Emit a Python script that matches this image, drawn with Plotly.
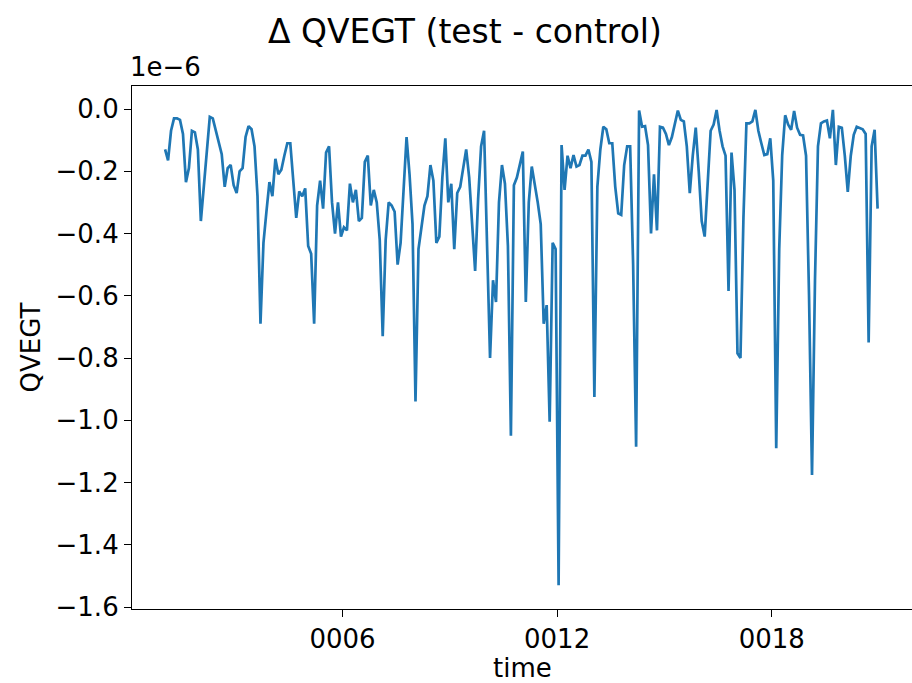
import plotly.graph_objects as go

# Monthly Δ QVEGT (test - control), units of 1e-6, years 0001..0020 (Jan..Dec)
start_year = 1
delta_qvegt = [
    # 0001
    -0.13, -0.165, -0.07, -0.03, -0.03, -0.035, -0.08, -0.235, -0.19, -0.07, -0.075, -0.13,
    # 0002
    -0.36, -0.24, -0.14, -0.025, -0.03, -0.07, -0.10, -0.145, -0.25, -0.19, -0.18, -0.245,
    # 0003
    -0.27, -0.20, -0.19, -0.09, -0.055, -0.065, -0.12, -0.28, -0.69, -0.43, -0.33, -0.235,
    # 0004
    -0.28, -0.16, -0.21, -0.195, -0.15, -0.11, -0.11, -0.24, -0.35, -0.265, -0.28, -0.255,
    # 0005
    -0.44, -0.465, -0.69, -0.31, -0.23, -0.32, -0.14, -0.12, -0.30, -0.40, -0.30, -0.41,
    # 0006
    -0.38, -0.39, -0.24, -0.30, -0.26, -0.36, -0.35, -0.17, -0.15, -0.31, -0.26, -0.30,
    # 0007
    -0.42, -0.73, -0.42, -0.30, -0.31, -0.33, -0.50, -0.43, -0.25, -0.09, -0.21, -0.37,
    # 0008
    -0.94, -0.45, -0.38, -0.31, -0.28, -0.18, -0.23, -0.43, -0.41, -0.22, -0.094, -0.30,
    # 0009
    -0.24, -0.45, -0.27, -0.25, -0.19, -0.13, -0.22, -0.39, -0.52, -0.29, -0.12, -0.07,
    # 0010
    -0.40, -0.80, -0.55, -0.62, -0.30, -0.18, -0.24, -0.44, -1.05, -0.245, -0.22, -0.18,
    # 0011
    -0.137, -0.62, -0.30, -0.185, -0.24, -0.30, -0.37, -0.69, -0.63, -1.005, -0.43, -0.45,
    # 0012
    -1.53, -0.116, -0.26, -0.15, -0.19, -0.148, -0.185, -0.18, -0.15, -0.15, -0.13, -0.17,
    # 0013
    -0.925, -0.25, -0.13, -0.057, -0.065, -0.11, -0.11, -0.25, -0.335, -0.34, -0.18, -0.12,
    # 0014
    -0.12, -0.50, -1.085, -0.005, -0.057, -0.055, -0.116, -0.40, -0.21, -0.39, -0.057, -0.06,
    # 0015
    -0.08, -0.116, -0.09, -0.05, -0.005, -0.035, -0.04, -0.12, -0.27, -0.15, -0.06, -0.20,
    # 0016
    -0.36, -0.41, -0.24, -0.07, -0.05, -0.003, -0.07, -0.12, -0.15, -0.585, -0.14, -0.26,
    # 0017
    -0.785, -0.80, -0.35, -0.046, -0.046, -0.04, -0.003, -0.07, -0.11, -0.148, -0.145, -0.094,
    # 0018
    -0.23, -1.09, -0.45, -0.148, -0.02, -0.05, -0.067, -0.006, -0.06, -0.083, -0.085, -0.15,
    # 0019
    -0.60, -1.176, -0.55, -0.12, -0.046, -0.04, -0.037, -0.094, -0.003, -0.18, -0.057, -0.06,
    # 0020
    -0.15, -0.266, -0.15, -0.083, -0.057, -0.06, -0.065, -0.08, -0.75, -0.12, -0.067, -0.32,
]
tick_years = [6, 12, 18]
tick_labels = ["0006", "0012", "0018"]
y_ticks = [0.0, -0.2, -0.4, -0.6, -0.8, -1.0, -1.2, -1.4, -1.6]

# decimal-year time coordinate (mid-month)
time = [start_year + (i + 0.5) / 12 for i in range(len(delta_qvegt))]

FONT = "DejaVu Sans"
W, H = 912, 683
L, R, T, B = 132, 0, 86, 74
PW, PH = W - L - R, H - T - B

fig = go.Figure()
fig.add_trace(go.Scatter(x=time, y=delta_qvegt, mode="lines",
                         line=dict(color="#1f77b4", width=2.7), showlegend=False))

fig.update_layout(
    width=W, height=H,
    margin=dict(l=L, r=R, t=T, b=B, pad=0),
    paper_bgcolor="white", plot_bgcolor="white",
    font=dict(family=FONT, size=26, color="black"),
    xaxis=dict(range=[0.117, 21.92], tickvals=tick_years, ticktext=tick_labels,
               showgrid=False, zeroline=False, showline=True, linecolor="black",
               linewidth=1.2, mirror=True, ticks="outside", ticklen=7, tickwidth=1.2,
               tickcolor="black", tickfont=dict(size=26)),
    yaxis=dict(range=[-1.6064, 0.0739], tickvals=y_ticks, tickformat=".1f",
               showgrid=False, zeroline=False, showline=True, linecolor="black",
               linewidth=1.2, mirror=False, ticks="outside", ticklen=7, tickwidth=1.2,
               tickcolor="black", tickfont=dict(size=26)),
    annotations=[
        dict(text="Δ QVEGT (test - control)", xref="paper", yref="paper",
             x=(465 - L) / PW, y=1 + (T - 31) / PH,
             xanchor="center", yanchor="middle", showarrow=False,
             font=dict(size=33)),
        dict(text="1e\u22126", xref="paper", yref="paper", x=0, y=1,
             xanchor="left", yanchor="bottom", yshift=2, xshift=-4, showarrow=False,
             font=dict(size=26)),
        dict(text="QVEGT", xref="paper", yref="paper",
             x=(30 - L) / PW, y=0.5, textangle=-90,
             xanchor="center", yanchor="middle", showarrow=False, font=dict(size=26)),
        dict(text="time", xref="paper", yref="paper", x=0.5,
             y=-(668 - (H - B)) / PH,
             xanchor="center", yanchor="middle", showarrow=False, font=dict(size=26)),
    ],
)

fig.write_html("out.html", config={"displayModeBar": False},
               post_script="document.body.style.margin='0';document.body.style.overflow='hidden';")
